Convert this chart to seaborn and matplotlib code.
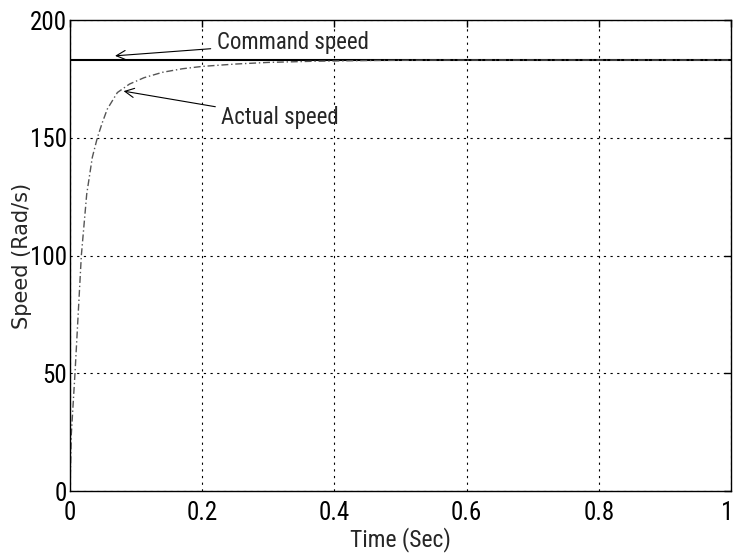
import numpy as np
import pandas as pd
import matplotlib
matplotlib.use("Agg")
import matplotlib.pyplot as plt
import matplotlib.transforms as mtransforms
import seaborn as sns

# Speed response of the drive
time_s = [0, 0.002, 0.0076, 0.0172, 0.0253, 0.0338, 0.0414, 0.049, 0.0565, 0.0717,
          0.09, 0.112, 0.14, 0.17, 0.2, 0.25, 0.3, 0.37, 0.45, 0.55, 0.7, 0.85, 1.0]
actual_speed = [0, 24, 50, 100, 126, 141.7, 150, 156.5, 162.2, 169.2,
                172.8, 175.5, 177.8, 179.3, 180.3, 181.3, 182, 182.5, 182.8, 183, 183, 183, 183]
command_time = [0, 1.0]
command_speed = [183, 183]

x_ticks = [0, 0.2, 0.4, 0.6, 0.8, 1]
x_tick_labels = ["0", "0.2", "0.4", "0.6", "0.8", "1"]
y_ticks = [0, 50, 100, 150, 200]

actual_df = pd.DataFrame({"Time": time_s, "Speed": actual_speed})
command_df = pd.DataFrame({"Time": command_time, "Speed": command_speed})

sns.set_theme(style="white")
narrow = ["Roboto Condensed", "Liberation Sans Narrow", "Liberation Sans", "DejaVu Sans"]
plt.rcParams["font.family"] = narrow

fig = plt.figure(figsize=(7.35, 5.56), dpi=100)
ax = fig.add_axes([0.0952, 0.1169, 0.8994, 0.8471])

sns.lineplot(data=command_df, x="Time", y="Speed", ax=ax, color="black",
             linewidth=1.5, estimator=None)
sns.lineplot(data=actual_df, x="Time", y="Speed", ax=ax, color="#555555",
             linewidth=1.0, estimator=None, linestyle=(0, (5, 2, 1, 2)))

ax.set_xlim(0, 1)
ax.set_ylim(0, 200)
ax.set_xticks(x_ticks)
ax.set_xticklabels(x_tick_labels)
ax.set_yticks(y_ticks)
ax.grid(True, color="black", linestyle=(0, (2, 4)), linewidth=0.8)
ax.tick_params(direction="in", length=5, width=1, colors="black",
               labelsize=18, top=True, right=True)
ax.tick_params(axis="x", pad=7)
ax.tick_params(axis="y", pad=2)
for spine in ax.spines.values():
    spine.set_color("black")
    spine.set_linewidth(1.0)

# keep the last x tick label inside the figure
last = ax.get_xticklabels()[-1]
last.set_transform(last.get_transform() +
                   mtransforms.ScaledTranslation(-4 / 100, 0, fig.dpi_scale_trans))

ax.set_xlabel("Time (Sec)", fontsize=17)
ax.xaxis.label.set_va("center")
ax.xaxis.set_label_coords(0.5, -0.104)
ax.set_ylabel("Speed (Rad/s)", fontsize=15, family=["DejaVu Sans"])
ax.yaxis.label.set_va("center")
ax.yaxis.set_label_coords(-0.073, 0.5)

ax.annotate("Command speed", xy=(0.064, 184.7), xytext=(0.222, 190.4),
            fontsize=16.5, va="center", ha="left",
            arrowprops=dict(arrowstyle="->", color="black", lw=0.8))
ax.annotate("Actual speed", xy=(0.077, 170), xytext=(0.229, 158.5),
            fontsize=16.5, va="center", ha="left",
            arrowprops=dict(arrowstyle="->", color="black", lw=0.8))

fig.savefig("out.png", dpi=100)
